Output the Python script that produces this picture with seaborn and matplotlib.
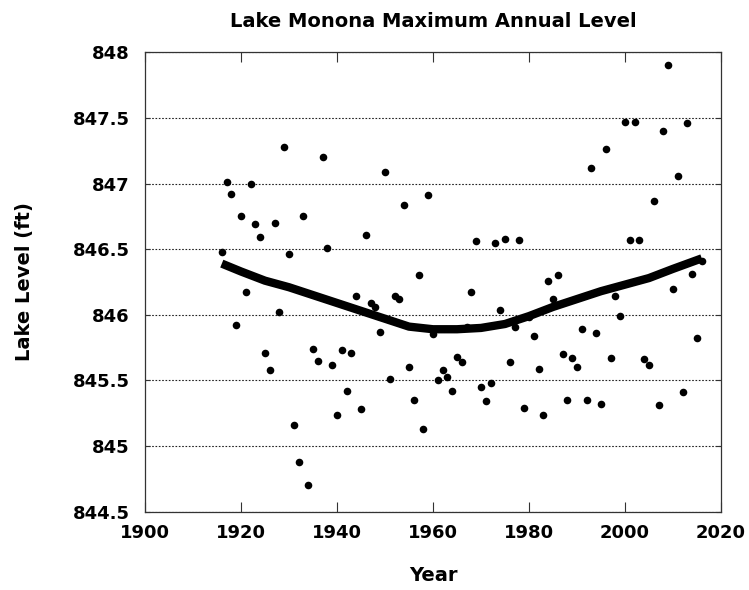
import numpy as np
import pandas as pd
import seaborn as sns
import matplotlib
matplotlib.use('Agg')
import matplotlib.pyplot as plt

# Maximum annual lake level, one value per year 1916-2016
years = list(range(1916, 2017))
levels = [
    846.48, 847.01, 846.92, 845.92,
    846.75, 846.17, 847.00, 846.69, 846.59, 845.71, 845.58, 846.70, 846.02, 847.28,
    846.46, 845.16, 844.88, 846.75, 844.70, 845.74, 845.65, 847.20, 846.51, 845.62,
    845.24, 845.73, 845.42, 845.71, 846.14, 845.28, 846.61, 846.09, 846.06, 845.87,
    847.09, 845.51, 846.14, 846.12, 846.84, 845.60, 845.35, 846.30, 845.13, 846.91,
    845.85, 845.50, 845.58, 845.53, 845.42, 845.68, 845.64, 845.91, 846.17, 846.56,
    845.45, 845.34, 845.48, 846.55, 846.04, 846.58, 845.64, 845.91, 846.57, 845.29,
    845.98, 845.84, 845.59, 845.24, 846.26, 846.12, 846.30, 845.70, 845.35, 845.67,
    845.60, 845.89, 845.35, 847.12, 845.86, 845.32, 847.26, 845.67, 846.14, 845.99,
    847.47, 846.57, 847.47, 846.57, 845.66, 845.62, 846.87, 845.31, 847.40, 847.90,
    846.20, 847.06, 845.41, 847.46, 846.31, 845.82, 846.41,
]

# smoothed trend line
trend_years = [1916, 1920, 1925, 1930, 1935, 1940, 1945, 1950, 1955, 1960, 1965,
               1970, 1975, 1980, 1985, 1990, 1995, 2000, 2005, 2010, 2016]
trend_level = [846.39, 846.33, 846.26, 846.21, 846.15, 846.09, 846.03, 845.97, 845.91,
               845.89, 845.89, 845.90, 845.93, 845.99, 846.06, 846.12, 846.18, 846.23,
               846.28, 846.35, 846.43]

x_ticks = [1900, 1920, 1940, 1960, 1980, 2000, 2020]
y_ticks = [844.5, 845, 845.5, 846, 846.5, 847, 847.5, 848]
y_tick_labels = ['844.5', '845', '845.5', '846', '846.5', '847', '847.5', '848']

df = pd.DataFrame({'Year': years, 'Level': levels})
trend = pd.DataFrame({'Year': trend_years, 'Level': trend_level})

sns.set_theme(style='white')
plt.rcParams['font.family'] = ['DejaVu Sans']
plt.rcParams['font.weight'] = 'bold'
plt.rcParams['text.color'] = 'black'
plt.rcParams['axes.labelcolor'] = 'black'
plt.rcParams['xtick.color'] = 'black'
plt.rcParams['ytick.color'] = 'black'

fig = plt.figure(figsize=(7.49, 5.90), dpi=100)
ax = fig.add_axes([0.1936, 0.1327, 0.7690, 0.7787])

sns.scatterplot(data=df, x='Year', y='Level', color='black', s=30,
                edgecolor='black', linewidth=0, ax=ax, zorder=3)
sns.lineplot(data=trend, x='Year', y='Level', color='black', lw=6,
             ax=ax, zorder=4, solid_capstyle='butt')

ax.set_xlim(1900, 2020)
ax.set_ylim(844.5, 848)
ax.set_xticks(x_ticks)
ax.set_xticklabels([str(t) for t in x_ticks], fontsize=13, fontweight='bold')
ax.set_yticks(y_ticks)
ax.set_yticklabels(y_tick_labels, fontsize=13, fontweight='bold')

ax.tick_params(axis='x', direction='in', top=True, bottom=True, length=7,
               width=0.8, color='#333333', labelcolor='black', pad=9)
ax.tick_params(axis='y', direction='in', left=True, right=True, length=3.5,
               width=0.8, color='#333333', labelcolor='black', pad=11)

ax.yaxis.grid(True, linestyle=(0, (1.5, 1.5)), color='#222222', lw=0.8)
ax.xaxis.grid(False)
for sp in ax.spines.values():
    sp.set_color('#333333')
    sp.set_linewidth(0.9)

ax.set_title('Lake Monona Maximum Annual Level', fontsize=14, fontweight='bold',
             pad=18, color='black')
ax.set_xlabel('Year', fontsize=14, fontweight='bold', labelpad=17, color='black')
ax.set_ylabel('Lake Level (ft)', fontsize=14, fontweight='bold', labelpad=28, color='black')

fig.savefig('out.png', dpi=100)
